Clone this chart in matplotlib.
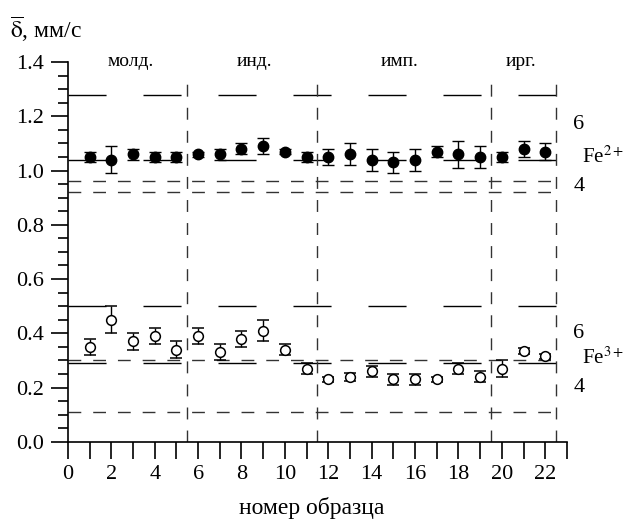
import matplotlib
matplotlib.use('Agg')
import matplotlib.pyplot as plt
from matplotlib.ticker import MultipleLocator

plt.rcParams['font.family'] = ['Liberation Serif', 'DejaVu Serif']
plt.rcParams['mathtext.fontset'] = 'stix'
plt.rcParams['lines.scale_dashes'] = False

# sample numbers
samples = list(range(1, 23))

# Fe2+ isomer shift and errors (filled circles)
fe2 = [1.05, 1.04, 1.06, 1.05, 1.05, 1.06, 1.06, 1.08, 1.09, 1.07, 1.05,
       1.05, 1.06, 1.04, 1.03, 1.04, 1.07, 1.06, 1.05, 1.05, 1.08, 1.07]
fe2_err = [0.02, 0.05, 0.02, 0.02, 0.02, 0.01, 0.02, 0.02, 0.03, 0.01, 0.02,
           0.03, 0.04, 0.04, 0.04, 0.04, 0.02, 0.05, 0.04, 0.02, 0.03, 0.03]

# Fe3+ isomer shift and errors (open circles)
fe3 = [0.35, 0.45, 0.37, 0.39, 0.34, 0.39, 0.33, 0.38, 0.41, 0.34, 0.27,
       0.23, 0.24, 0.26, 0.23, 0.23, 0.23, 0.27, 0.24, 0.27, 0.335, 0.315]
fe3_err = [0.03, 0.05, 0.03, 0.03, 0.03, 0.03, 0.03, 0.03, 0.04, 0.02, 0.02,
           0.01, 0.015, 0.02, 0.02, 0.02, 0.01, 0.02, 0.02, 0.03, 0.01, 0.01]

# group borders and names
borders = [5.5, 11.5, 19.5, 22.5]
groups = ['молд.', 'инд.', 'имп.', 'ирг.']
group_x = [2.9, 8.6, 15.3, 20.9]

# reference levels: long dashes (means / upper limits), short dashes (lower limits)
long_levels = [1.28, 1.04, 0.50, 0.29]
short_levels = [0.96, 0.92, 0.30, 0.11]

fig = plt.figure(figsize=(6.23, 5.21), dpi=100)
ax = fig.add_axes([0.109, 0.152, 0.801, 0.729])

gray = '#333333'
for lv in long_levels:
    ax.plot([0, 22.5], [lv, lv], color='black', lw=1.0,
            linestyle=(0, (27.4, 26.6)))
for lv in short_levels:
    ax.plot([0, 22.5], [lv, lv], color=gray, lw=1.0,
            linestyle=(0, (9.2, 8.6)))
for b in borders:
    ax.plot([b, b], [0, 1.35], color=gray, lw=1.0,
            linestyle=(0, (8.6, 8.0)))

ax.errorbar(samples, fe2, yerr=fe2_err, fmt='o', color='black', ms=7.5,
            capsize=4.5, elinewidth=1.0, capthick=1.0)
ax.errorbar(samples, fe3, yerr=fe3_err, fmt='o', color='black', mfc='white',
            ms=7, mew=1.1, capsize=4.5, elinewidth=1.0, capthick=1.0)

for name, gx in zip(groups, group_x):
    ax.text(gx, 1.4, name, ha='center', va='center', fontsize=14)

# coordination labels on the right
ax.text(23.3, 1.17, '6', fontsize=16, va='center', clip_on=False)
ax.text(23.7, 1.05, 'Fe$^{2+}$', fontsize=15, va='center', clip_on=False)
ax.text(23.3, 0.94, '4', fontsize=16, va='center', clip_on=False)
ax.text(23.3, 0.40, '6', fontsize=16, va='center', clip_on=False)
ax.text(23.7, 0.31, 'Fe$^{3+}$', fontsize=15, va='center', clip_on=False)
ax.text(23.3, 0.20, '4', fontsize=16, va='center', clip_on=False)

ax.set_xlim(0, 23)
ax.set_ylim(0, 1.4)
ax.spines['top'].set_visible(False)
ax.spines['right'].set_visible(False)
ax.spines['left'].set_linewidth(1.2)
ax.spines['bottom'].set_linewidth(1.2)

ax.xaxis.set_major_locator(MultipleLocator(2))
ax.xaxis.set_minor_locator(MultipleLocator(1))
ax.yaxis.set_minor_locator(MultipleLocator(0.05))
ax.set_yticks([0.0, 0.2, 0.4, 0.6, 0.8, 1.0, 1.2, 1.4])
ax.set_yticklabels(['0.0', '0.2', '0.4', '0.6', '0.8', '1.0', '1.2', '1.4'])
ax.tick_params(axis='both', which='major', labelsize=16, width=1.2,
               length=12, pad=5)
ax.tick_params(axis='x', which='minor', width=1.2, length=12)
ax.tick_params(axis='y', which='minor', width=1.2, length=7)

fig.text(0.5 * (0.109 + 0.91) - 0.01, 0.025, 'номер образца', fontsize=17,
         ha='center', va='center')
fig.text(0.016, 0.945, r'$\overline{\mathrm{\delta}}$, мм/с', fontsize=17,
         va='center', ha='left')

fig.savefig('out.png', dpi=100)
